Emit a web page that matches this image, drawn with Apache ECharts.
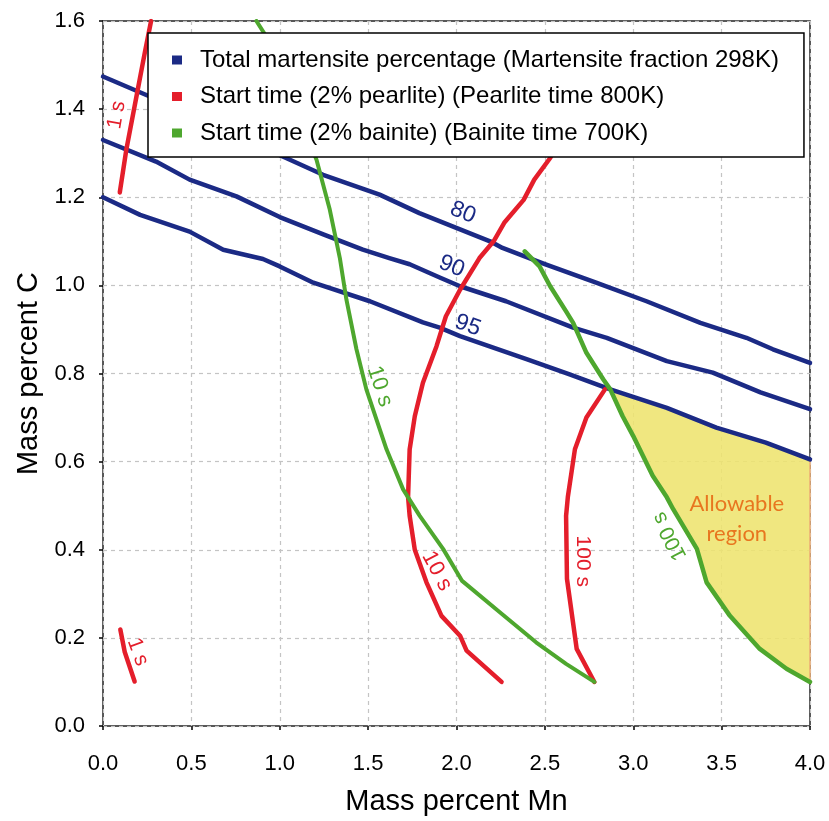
<!DOCTYPE html>
<html>
<head>
<meta charset="utf-8">
<script src="https://cdn.jsdelivr.net/npm/echarts@6/dist/echarts.min.js"></script>
<style>
  html, body { margin: 0; padding: 0; background: #fff; }
  #chart { width: 829px; height: 821px; }
</style>
</head>
<body>
<div id="chart"></div>
<script>
// axis ticks
var xTicks = [0, 0.5, 1.0, 1.5, 2.0, 2.5, 3.0, 3.5, 4.0];
var yTicks = [0, 0.2, 0.4, 0.6, 0.8, 1.0, 1.2, 1.4, 1.6];

// martensite iso-lines (Mn, C)
var martensite80 = [[0,1.474],[0.245,1.432],[0.5,1.39],[0.75,1.34],[1.02,1.292],[1.245,1.251],[1.565,1.206],[1.79,1.164],[2.19,1.10],[2.26,1.085],[2.50,1.048],[2.79,1.006],[3.075,0.964],[3.38,0.915],[3.64,0.881],[3.79,0.855],[4.0,0.824]];
var martensite90 = [[0,1.33],[0.30,1.281],[0.49,1.24],[0.755,1.202],[1.0,1.155],[1.25,1.115],[1.47,1.081],[1.62,1.062],[1.735,1.048],[1.905,1.018],[2.02,0.998],[2.28,0.964],[2.66,0.904],[2.85,0.881],[3.19,0.828],[3.45,0.802],[3.72,0.757],[4.0,0.719]];
var martensite95 = [[0,1.20],[0.21,1.16],[0.49,1.122],[0.68,1.081],[0.905,1.06],[1.0,1.043],[1.19,1.006],[1.51,0.964],[1.81,0.916],[1.905,0.904],[2.02,0.885],[2.40,0.832],[2.64,0.798],[2.87,0.764],[3.19,0.722],[3.47,0.677],[3.75,0.643],[4.0,0.605]];

// pearlite start time lines
var pearlite1sTop = [[0.095,1.211],[0.132,1.308],[0.189,1.428],[0.236,1.527],[0.272,1.6]];
var pearlite1sLow = [[0.098,0.219],[0.123,0.168],[0.179,0.101]];
var pearlite10s = [[2.255,0.10],[2.057,0.171],[2.02,0.205],[1.915,0.25],[1.83,0.326],[1.764,0.40],[1.735,0.477],[1.726,0.52],[1.735,0.628],[1.764,0.703],[1.81,0.779],[1.887,0.862],[1.94,0.93],[2.02,0.99],[2.13,1.062],[2.21,1.10],[2.27,1.142],[2.38,1.194],[2.44,1.24],[2.53,1.289],[2.6,1.34]];
var pearlite100s = [[2.78,0.10],[2.68,0.175],[2.625,0.334],[2.62,0.477],[2.63,0.52],[2.67,0.628],[2.735,0.70],[2.84,0.764]];

// bainite start time lines
var bainite10s = [[0.868,1.6],[0.925,1.564],[1.208,1.285],[1.283,1.172],[1.34,1.062],[1.377,0.968],[1.434,0.855],[1.49,0.764],[1.547,0.696],[1.604,0.628],[1.698,0.537],[1.792,0.477],[1.924,0.402],[2.03,0.33],[2.245,0.258],[2.45,0.19],[2.62,0.141],[2.78,0.10]];
var bainite100s = [[2.386,1.077],[2.47,1.043],[2.53,0.998],[2.62,0.941],[2.66,0.915],[2.735,0.847],[2.83,0.787],[2.87,0.764],[2.94,0.703],[3.0,0.658],[3.11,0.568],[3.19,0.519],[3.226,0.492],[3.36,0.402],[3.415,0.326],[3.547,0.25],[3.716,0.175],[3.867,0.13],[4.0,0.10]];

// allowable region outline
var allowableRegion = [[2.87,0.764],[3.19,0.722],[3.47,0.677],[3.75,0.643],[4.0,0.605],[4.0,0.10],[3.867,0.13],[3.716,0.175],[3.547,0.25],[3.415,0.326],[3.36,0.402],[3.226,0.492],[3.19,0.519],[3.11,0.568],[3.0,0.658],[2.94,0.703]];

// curve labels: [x, y, text, rotation deg, colour key, font size]
var curveLabels = [
  [2.036, 1.165, '80', -22, 'blue', 23],
  [1.973, 1.043, '90', -22, 'blue', 23],
  [2.064, 0.909, '95', -20, 'blue', 23],
  [0.078, 1.387, '1 s', 80, 'red', 21],
  [0.197, 0.168, '1 s', -70, 'red', 21],
  [1.566, 0.771, '10 s', -72, 'green', 22],
  [1.889, 0.352, '10 s', -62, 'red', 22],
  [2.715, 0.374, '100 s', -90, 'red', 21],
  [3.207, 0.431, '100 s', 117, 'green', 21]
];

var names = [
  'Total martensite percentage (Martensite fraction 298K)',
  'Start time (2% pearlite) (Pearlite time 800K)',
  'Start time (2% bainite) (Bainite time 700K)'
];
var colors = { blue: '#1b2a85', red: '#e41e2b', green: '#4ea72e' };

function curve(name, data, color, width) {
  return {
    type: 'line', name: name, data: data, showSymbol: false, symbol: 'none',
    lineStyle: { color: color, width: width, cap: 'round', join: 'round' },
    itemStyle: { color: color }, z: 3, silent: true
  };
}

var chart = echarts.init(document.getElementById('chart'));

var series = [
  {
    type: 'custom',
    renderItem: function (params, api) {
      var pts = allowableRegion.map(function (p) { return api.coord(p); });
      return {
        type: 'polygon',
        shape: { points: pts },
        style: { fill: 'rgba(238,228,110,0.88)', stroke: '#f2b27a', lineWidth: 1.5 }
      };
    },
    data: [0], z: 1, silent: true
  },
  curve(names[0], martensite80, colors.blue, 4.5),
  curve(names[0], martensite90, colors.blue, 4.5),
  curve(names[0], martensite95, colors.blue, 4.5),
  curve(names[1], pearlite1sTop, colors.red, 4.5),
  curve(names[1], pearlite1sLow, colors.red, 4.5),
  curve(names[1], pearlite10s, colors.red, 4.5),
  curve(names[1], pearlite100s, colors.red, 4.5),
  curve(names[2], bainite10s, colors.green, 4),
  curve(names[2], bainite100s, colors.green, 4.5),
  {
    type: 'scatter', symbolSize: 0, silent: true, z: 4,
    itemStyle: { opacity: 1 },
    data: curveLabels.map(function (l) {
      return {
        value: [l[0], l[1]],
        label: {
          show: true, position: 'inside', formatter: l[2], rotate: l[3],
          color: colors[l[4]], fontSize: l[5], fontFamily: 'Liberation Sans', opacity: 1
        }
      };
    })
  },
  {
    type: 'scatter', symbolSize: 0, silent: true, z: 4,
    itemStyle: { opacity: 1 },
    data: [{
      value: [3.586, 0.469],
      label: {
        show: true, position: 'inside', formatter: 'Allowable\nregion',
        color: '#e8761f', fontSize: 22, lineHeight: 30, fontFamily: 'Lato', opacity: 1
      }
    }]
  }
];

chart.setOption({
  animation: false,
  backgroundColor: '#fff',
  grid: {
    left: 103, right: 19, top: 21, bottom: 94,
    show: true, borderColor: '#222', borderWidth: 1.5
  },
  legend: {
    data: names,
    orient: 'vertical',
    left: 148, top: 33,
    backgroundColor: '#fff',
    borderColor: '#000', borderWidth: 1.5, borderRadius: 0,
    padding: [15, 25, 12, 24],
    itemGap: 12.5,
    itemWidth: 10, itemHeight: 9,
    icon: 'rect',
    selectedMode: false,
    textStyle: { fontSize: 24, color: '#000', fontFamily: 'Liberation Sans', padding: [0, 0, 0, 13] },
    z: 10
  },
  xAxis: {
    type: 'value', min: 0, max: 4, interval: 0.5, offset: 6,
    name: 'Mass percent Mn', nameLocation: 'middle', nameGap: 55,
    nameTextStyle: { fontSize: 29, color: '#000', fontFamily: 'Liberation Sans' },
    axisLine: { show: false },
    axisTick: { show: true, length: 4, lineStyle: { color: '#000', width: 1.5 } },
    axisLabel: {
      margin: 21, fontSize: 22, color: '#000', fontFamily: 'Liberation Sans',
      formatter: function (v) { return xTicks.indexOf(v) >= 0 ? v.toFixed(1) : ''; }
    },
    splitLine: { show: true, lineStyle: { color: '#c4c4c4', type: [4, 4], width: 1.2 } }
  },
  yAxis: {
    type: 'value', min: 0, max: 1.6, interval: 0.2, offset: 6,
    name: 'Mass percent C', nameLocation: 'middle', nameGap: 54, nameRotate: 90,
    nameTextStyle: { fontSize: 29, color: '#000', fontFamily: 'Liberation Sans' },
    axisLine: { show: false },
    axisTick: { show: true, length: 4, lineStyle: { color: '#000', width: 1.5 } },
    axisLabel: {
      margin: 12, fontSize: 22, color: '#000', fontFamily: 'Liberation Sans',
      formatter: function (v) {
        var hit = yTicks.some(function (t) { return Math.abs(t - v) < 1e-6; });
        return hit ? v.toFixed(1) : '';
      }
    },
    splitLine: { show: true, lineStyle: { color: '#c4c4c4', type: [4, 4], width: 1.2 } }
  },
  series: series
});

window.addEventListener('resize', function () { chart.resize(); });
</script>
</body>
</html>
